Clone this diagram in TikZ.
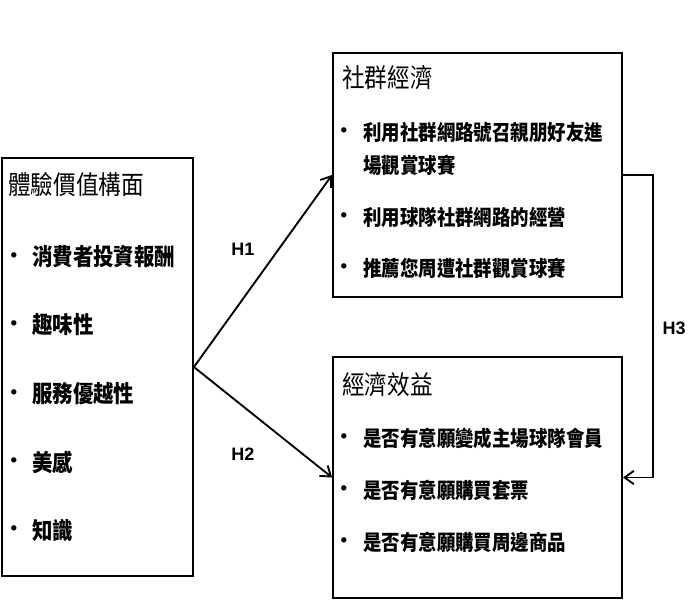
\documentclass[tikz,border=0pt]{standalone}
\usepackage{fontspec}
\setmainfont{Liberation Sans}
\newfontfamily\cjkfont{Noto Sans CJK TC}[FakeStretch=0.87]
\usepackage{tikz}
\usetikzlibrary{arrows.meta, positioning, calc, fit}

\begin{document}
\begin{tikzpicture}[
    x=0.75pt, y=-0.75pt,
    boxNode/.style={draw=black, fill=white, inner sep=0pt, line width=1.4pt},
    titleText/.style={anchor=west, inner sep=0pt, font=\cjkfont\fontsize{19.5}{22}\selectfont},
    itemText/.style={anchor=west, inner sep=0pt, align=left, font=\cjkfont\bfseries\fontsize{15.9}{24.75}\selectfont},
    leftItem/.style={anchor=west, inner sep=0pt, font=\cjkfont\bfseries\fontsize{17.6}{20}\selectfont},
    bulletDot/.style={inner sep=0pt, font=\bfseries\fontsize{14}{16}\selectfont},
    linkArrow/.style={line width=1.4pt, -{Straight Barb[length=7pt, width=10pt]}},
    hypLabel/.style={inner sep=0pt, font=\bfseries\fontsize{13.5}{16}\selectfont}
]
\useasboundingbox (0,0) rectangle (692,607);

% Boxes
\node[boxNode, fit={(2,158) (193,576)}] (expBox) {};
\node[boxNode, fit={(333,53) (622,297)}] (socBox) {};
\node[boxNode, fit={(333,357) (622,598)}] (ecoBox) {};

% Left box: experience value
\node[titleText] (expTitle) at (8,185) {體驗價值構面};
\node[bulletDot] (expDot1) at (14,257) {•};
\node[leftItem] (expItem1) at (32,257) {消費者投資報酬};
\node[bulletDot] (expDot2) at (14,325) {•};
\node[leftItem] (expItem2) at (32,325) {趣味性};
\node[bulletDot] (expDot3) at (14,394) {•};
\node[leftItem] (expItem3) at (32,394) {服務優越性};
\node[bulletDot] (expDot4) at (14,462) {•};
\node[leftItem] (expItem4) at (32,462) {美感};
\node[bulletDot] (expDot5) at (14,530) {•};
\node[leftItem] (expItem5) at (32,530) {知識};

% Top right box: social economy
\node[titleText] (socTitle) at (342,78) {社群經濟};
\node[bulletDot] (socDot1) at (344,132) {•};
\node[itemText] (socItem1) at (363,148.5) {利用社群網路號召親朋好友進\\場觀賞球賽};
\node[bulletDot] (socDot2) at (344,217) {•};
\node[itemText] (socItem2) at (363,217) {利用球隊社群網路的經營};
\node[bulletDot] (socDot3) at (344,268) {•};
\node[itemText] (socItem3) at (363,268) {推薦您周遭社群觀賞球賽};

% Bottom right box: economic benefit
\node[titleText] (ecoTitle) at (342,385) {經濟效益};
\node[bulletDot] (ecoDot1) at (344,438) {•};
\node[itemText] (ecoItem1) at (363,438) {是否有意願變成主場球隊會員};
\node[bulletDot] (ecoDot2) at (344,490) {•};
\node[itemText] (ecoItem2) at (363,490) {是否有意願購買套票};
\node[bulletDot] (ecoDot3) at (344,542) {•};
\node[itemText] (ecoItem3) at (363,542) {是否有意願購買周邊商品};

% Hypothesis arrows
\draw[linkArrow] (expBox.east) -- (socBox.west);
\draw[linkArrow] (expBox.east) -- (ecoBox.west);
\draw[linkArrow] (socBox.east) -- ++(30,0) |- (ecoBox.east);

\node[hypLabel] (h1) at (243,249) {H1};
\node[hypLabel] (h2) at (243,454) {H2};
\node[hypLabel] (h3) at (674,328) {H3};

\end{tikzpicture}
\end{document}
